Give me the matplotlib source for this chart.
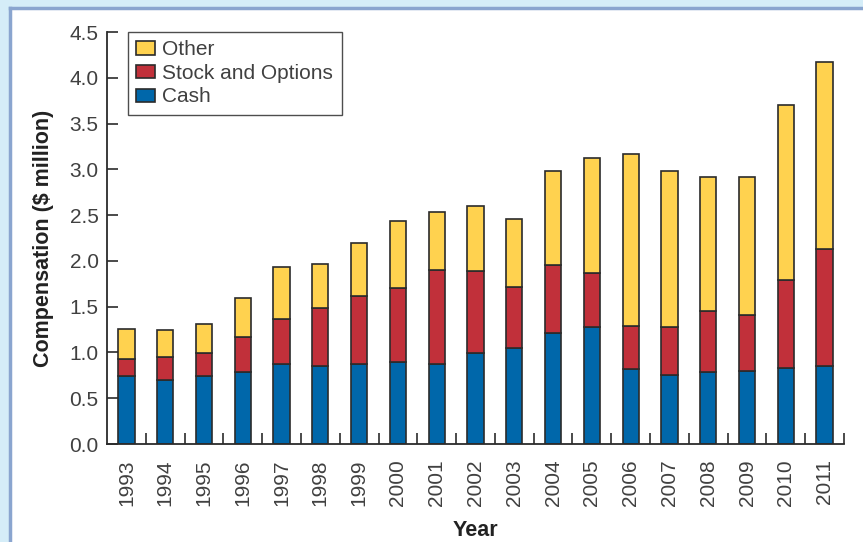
import matplotlib.pyplot as plt
import numpy as np
from matplotlib.patches import Rectangle

# CEO compensation by component ($ million)
years = [1993, 1994, 1995, 1996, 1997, 1998, 1999, 2000, 2001, 2002,
         2003, 2004, 2005, 2006, 2007, 2008, 2009, 2010, 2011]
cash = [0.74, 0.70, 0.74, 0.79, 0.87, 0.85, 0.87, 0.90, 0.87, 0.99,
        1.05, 1.21, 1.28, 0.82, 0.75, 0.79, 0.80, 0.83, 0.85]
stock_options = [0.19, 0.25, 0.25, 0.38, 0.49, 0.63, 0.75, 0.80, 1.03, 0.90,
                 0.67, 0.74, 0.59, 0.47, 0.53, 0.66, 0.61, 0.96, 1.28]
other = [0.33, 0.30, 0.32, 0.42, 0.57, 0.49, 0.57, 0.74, 0.63, 0.71,
         0.74, 1.03, 1.25, 1.88, 1.70, 1.47, 1.51, 1.91, 2.04]

COL_CASH = "#0067AA"
COL_STOCK = "#C1303A"
COL_OTHER = "#FFD24F"
EDGE = "#2b2b2b"
TXT = "#404040"
FS = 15

plt.rcParams["font.family"] = ["Liberation Sans", "DejaVu Sans"]

fig = plt.figure(figsize=(8.63, 5.42), dpi=100)
fig.patch.set_facecolor("#D5EDF8")

# white panel with a blue rule on top and left (kept behind the axes)
W, H = 863.0, 542.0
fig.patches.append(Rectangle((10 / W, 0), 1, 1 - 8 / H, transform=fig.transFigure,
                             facecolor="white", edgecolor="none", zorder=-10))
fig.add_artist(plt.Line2D([10 / W, 1], [1 - 8 / H, 1 - 8 / H], transform=fig.transFigure,
                          color="#8AA5CF", lw=2.5, zorder=-9))
fig.add_artist(plt.Line2D([10 / W, 10 / W], [0, 1 - 8 / H], transform=fig.transFigure,
                          color="#8AA5CF", lw=2.5, zorder=-9))

ax = fig.add_axes([107 / W, 1 - 444 / H, 737 / W, 412 / H])
ax.set_facecolor("none")

x = np.arange(len(years))
width = 0.42
cash = np.array(cash)
stock_options = np.array(stock_options)
other = np.array(other)

ax.bar(x, cash, width, color=COL_CASH, edgecolor=EDGE, linewidth=1.2, label="Cash")
ax.bar(x, stock_options, width, bottom=cash, color=COL_STOCK, edgecolor=EDGE,
       linewidth=1.2, label="Stock and Options")
ax.bar(x, other, width, bottom=cash + stock_options, color=COL_OTHER, edgecolor=EDGE,
       linewidth=1.2, label="Other")

ax.set_xlim(-0.5, len(years) - 0.5)
ax.set_ylim(0, 4.5)

ax.set_yticks(np.arange(0, 4.51, 0.5))
ax.set_yticklabels([f"{v:.1f}" for v in np.arange(0, 4.51, 0.5)])
ax.set_xticks(x)
ax.set_xticklabels([str(y) for y in years], rotation=90)
ax.set_xticks(np.arange(0.5, len(years), 1.0), minor=True)

ax.tick_params(axis="y", direction="in", length=8, width=1.2, colors=EDGE,
               labelcolor=TXT, labelsize=FS, pad=6)
ax.tick_params(axis="x", which="major", length=0, labelcolor=TXT, labelsize=FS, pad=11)
ax.tick_params(axis="x", which="minor", direction="in", length=8, width=1.2, colors=EDGE)

ax.spines["top"].set_visible(False)
ax.spines["right"].set_visible(False)
ax.spines["left"].set_color(EDGE)
ax.spines["bottom"].set_color(EDGE)
ax.spines["left"].set_linewidth(1.3)
ax.spines["bottom"].set_linewidth(1.3)

ax.set_ylabel("Compensation ($ million)", fontsize=15.5, fontweight="bold", color="#222222",
              labelpad=11)
ax.set_xlabel("Year", fontsize=15.5, fontweight="bold", color="#222222", labelpad=10)

handles, labels = ax.get_legend_handles_labels()
leg = ax.legend(handles[::-1], labels[::-1], loc="upper left", bbox_to_anchor=(0.0285, 1.0),
                borderaxespad=0, fontsize=FS, frameon=True, fancybox=False,
                handlelength=0.9, handleheight=0.6, handletextpad=0.35,
                labelspacing=0.22, borderpad=0.4)
leg.get_frame().set_edgecolor("#222222")
leg.get_frame().set_linewidth(1.0)
for t in leg.get_texts():
    t.set_color(TXT)

fig.savefig("out.png", dpi=100, facecolor=fig.get_facecolor())
